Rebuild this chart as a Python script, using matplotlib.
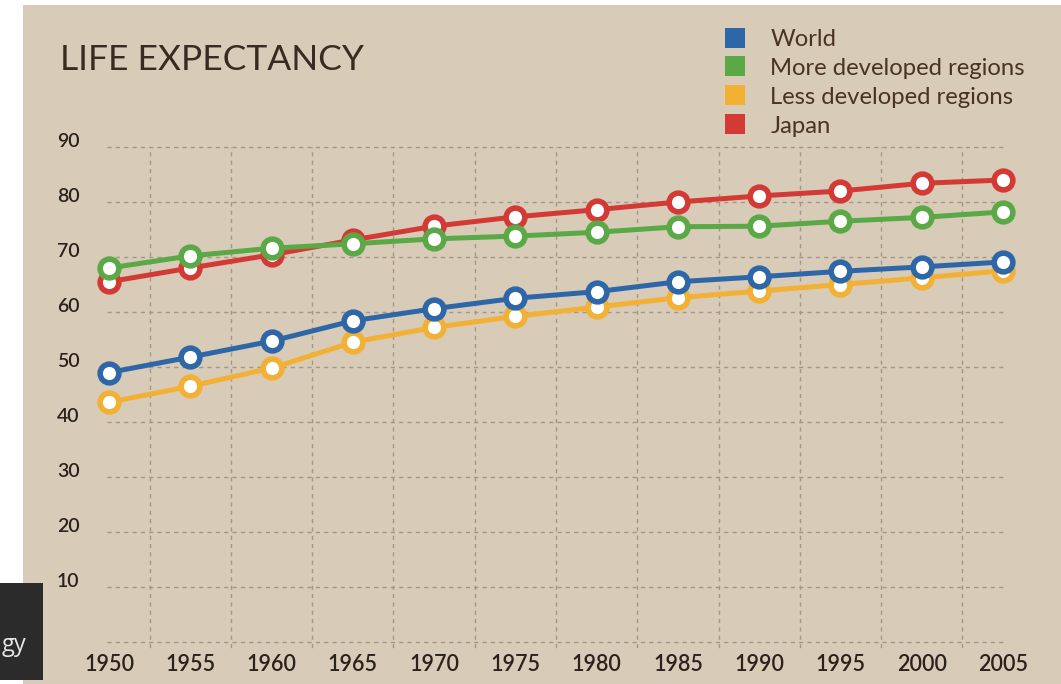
import matplotlib
matplotlib.use("Agg")
import matplotlib.pyplot as plt
from matplotlib.patches import Rectangle
from matplotlib.lines import Line2D
import matplotlib.transforms as mtransforms

years = [1950, 1955, 1960, 1965, 1970, 1975, 1980, 1985, 1990, 1995, 2000, 2005]
world = [49.0, 51.8, 54.7, 58.4, 60.6, 62.5, 63.7, 65.5, 66.4, 67.4, 68.2, 69.1]
more_dev = [68.0, 70.2, 71.6, 72.4, 73.3, 73.8, 74.5, 75.5, 75.6, 76.5, 77.2, 78.2]
less_dev = [43.6, 46.5, 49.8, 54.5, 57.2, 59.2, 60.9, 62.6, 63.8, 65.0, 66.2, 67.5]
japan = [65.5, 68.0, 70.4, 73.1, 75.6, 77.3, 78.6, 80.0, 81.1, 82.0, 83.4, 84.0]
y_ticks = [90, 80, 70, 60, 50, 40, 30, 20, 10]

BG = '#d8cbb8'
BLUE = '#2e67a8'
GREEN = '#5aa846'
YELLOW = '#f2b134'
RED = '#d33a36'
TXT = '#3a2b22'
GRID = '#a39786'

W, H = 1061, 684
fig = plt.figure(figsize=(W / 100, H / 100), dpi=100, facecolor='white')

# beige panel, white strip on top and left
fig.patches.append(Rectangle((23 / W, 0), 1 - 23 / W, 1 - 5 / H, transform=fig.transFigure,
                             facecolor=BG, edgecolor='none', zorder=-10))

# axes placed in pixel terms
ax_l, ax_r = 90, 1025
ax_t, ax_b = 144.25, 650.25
ax = fig.add_axes([ax_l / W, 1 - ax_b / H, (ax_r - ax_l) / W, (ax_b - ax_t) / H])
ax.set_facecolor('none')
px_per_year = (1003 - 109) / 55
ax.set_xlim(1950 - (109 - ax_l) / px_per_year, 2005 + (ax_r - 1003) / px_per_year)
ax.set_ylim(-1.5, 90.5)
for s in ax.spines.values():
    s.set_visible(False)
ax.set_yticks([])
ax.set_xticks(years)
ax.set_xticklabels([str(y) for y in years], fontsize=15.5, color='#2a221c', family='Lato',
                   fontweight='semibold')
ax.tick_params(axis='x', length=0, pad=3)

# dashed grid
ax.hlines([0] + y_ticks, years[0] - 0.1, years[-1] + 0.1, colors=GRID, linestyles=(0, (3, 3)),
          linewidth=1.0, zorder=1)
mids = [(a + b) / 2 for a, b in zip(years[:-1], years[1:])]
ax.vlines(mids, -2.5, 90, colors=GRID, linestyles=(0, (3, 3)), linewidth=1.0, zorder=1)

# y labels, sitting just above their gridline
lab_tr = mtransforms.blended_transform_factory(ax.transAxes, ax.transData)
for v in y_ticks:
    ax.text(-0.0353, v, str(v), transform=lab_tr, ha='left', va='baseline',
            fontsize=14, color='#2a221c', family='Lato', fontweight='semibold')

series = [
    (less_dev, YELLOW),
    (world, BLUE),
    (japan, RED),
    (more_dev, GREEN),
]
for i, (vals, col) in enumerate(series):
    ax.plot(years, vals, color=col, linewidth=3.6, marker='o', markersize=13.5,
            markerfacecolor='white', markeredgecolor=col, markeredgewidth=4.0,
            zorder=3 + i, clip_on=False)

# title
fig.text(60 / W, 1 - 60 / H, 'LIFE EXPECTANCY', fontsize=25.5, color=TXT, family='Lato',
         ha='left', va='center')

# legend
names = ['World', 'More developed regions', 'Less developed regions', 'Japan']
cols = [BLUE, GREEN, YELLOW, RED]
handles = [Line2D([], [], linestyle='none', marker='s', markersize=15, color=c,
                  markeredgewidth=0) for c in cols]
fig.legend(handles, names, loc='upper left', bbox_to_anchor=(711 / W, 1 - 17 / H),
           frameon=False, labelcolor='#4a3322', handlelength=1.0,
           handletextpad=0.98, labelspacing=0.33, borderpad=0,
           prop={'family': 'Lato', 'size': 17.2})

# dark overlay box in the lower-left corner
fig.patches.append(Rectangle((0, 1 - 680 / H), 43 / W, 97 / H, transform=fig.transFigure,
                             facecolor='#2b2b2b', edgecolor='none', zorder=5))
fig.text(2 / W, 1 - 645 / H, 'gy', fontsize=17, color='#e6e6e6', family='Open Sans',
         ha='left', va='center', zorder=6)

fig.savefig('out.png', dpi=100, facecolor='white')
